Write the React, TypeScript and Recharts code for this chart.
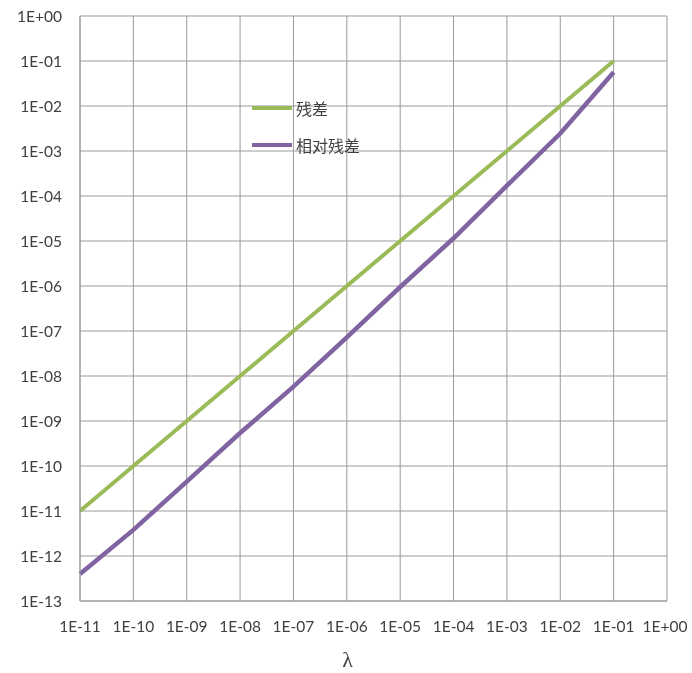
import React from "react";
import { CartesianGrid, Legend, Line, LineChart, XAxis, YAxis } from "recharts";

// λ values (one point per decade)
const lambdas = [1e-11, 1e-10, 1e-9, 1e-8, 1e-7, 1e-6, 1e-5, 1e-4, 1e-3, 1e-2, 1e-1];
// 残差
const residual = [1e-11, 1e-10, 1e-9, 1e-8, 1e-7, 1e-6, 1e-5, 1e-4, 1e-3, 1e-2, 1e-1];
// 相对残差
const relativeResidual = [4.0e-13, 3.8e-12, 4.5e-11, 5.4e-10, 5.8e-9, 7.2e-8, 9.5e-7, 1.15e-5, 1.7e-4, 2.45e-3, 5.6e-2];

const xTicks = [1e-11, 1e-10, 1e-9, 1e-8, 1e-7, 1e-6, 1e-5, 1e-4, 1e-3, 1e-2, 1e-1, 1];
const yTicks = [1e-13, 1e-12, 1e-11, 1e-10, 1e-9, 1e-8, 1e-7, 1e-6, 1e-5, 1e-4, 1e-3, 1e-2, 1e-1, 1];

const GREEN = "#9bbb59";
const PURPLE = "#8064a2";
const GRID = "#9a9a9a";
const TEXT = "#404040";

const chartData = lambdas.map((x, i) => ({
  x,
  residual: residual[i],
  relative: relativeResidual[i],
}));

const formatExp = (value: number) => {
  const exp = Math.round(Math.log10(value));
  return `1E${exp < 0 ? "-" : "+"}${String(Math.abs(exp)).padStart(2, "0")}`;
};

const tickStyle = { fontSize: 15.5, fill: TEXT, fontFamily: "Lato" };

// x tick: the last label sits right at the window edge, nudge it in a little
function XTick(props: any) {
  const { x, y, payload } = props;
  const isLast = payload.value === xTicks[xTicks.length - 1];
  return (
    <text
      x={isLast ? x - 2 : x}
      y={y}
      dy="0.71em"
      textAnchor="middle"
      fontSize={15.5}
      fontFamily="Lato"
      fill={TEXT}
    >
      {formatExp(payload.value)}
    </text>
  );
}

const legendItems = [
  { name: "残差", color: GREEN },
  { name: "相对残差", color: PURPLE },
];

function LegendContent() {
  return (
    <div style={{ fontFamily: "'Noto Sans CJK SC'", fontSize: 16, color: TEXT }}>
      {legendItems.map((item) => (
        <div key={item.name} style={{ display: "flex", alignItems: "center", height: 37 }}>
          <span style={{ display: "inline-block", width: 40, height: 4, background: item.color, marginRight: 4 }} />
          <span>{item.name}</span>
        </div>
      ))}
    </div>
  );
}

export default function App() {
  return (
    <div style={{ position: "fixed", left: 0, top: 0, width: 692, height: 673 }}>
      <LineChart
        width={692}
        height={673}
        data={chartData}
        margin={{ top: 16, right: 25, bottom: 30, left: 0 }}
      >
        <CartesianGrid stroke={GRID} strokeWidth={1} />
        <XAxis
          dataKey="x"
          type="number"
          scale="log"
          domain={[1e-11, 1]}
          ticks={xTicks}
          interval={0}
          height={42}
          tickSize={0}
          tickMargin={20}
          axisLine={{ stroke: GRID }}
          tick={<XTick />}
          label={{
            content: (props: any) => {
              const vb = props.viewBox;
              return (
                <text
                  x={vb.x + vb.width / 2 - 26}
                  y={vb.y + vb.height + 24}
                  textAnchor="middle"
                  fontFamily="Liberation Serif"
                  fontSize={22}
                  fill={TEXT}
                >
                  λ
                </text>
              );
            },
          }}
        />
        <YAxis
          type="number"
          scale="log"
          domain={[1e-13, 1]}
          ticks={yTicks}
          tickFormatter={formatExp}
          interval={0}
          width={80}
          tickSize={0}
          tickMargin={18}
          axisLine={{ stroke: GRID }}
          tick={tickStyle}
        />
        <Legend
          layout="vertical"
          align="center"
          verticalAlign="middle"
          content={() => <LegendContent />}
          wrapperStyle={{ left: 252, top: 89, width: "auto", height: "auto" }}
        />
        <Line
          dataKey="residual"
          name="残差"
          type="linear"
          stroke={GREEN}
          strokeWidth={4}
          dot={false}
          isAnimationActive={false}
        />
        <Line
          dataKey="relative"
          name="相对残差"
          type="linear"
          stroke={PURPLE}
          strokeWidth={4.5}
          dot={false}
          isAnimationActive={false}
        />
      </LineChart>
    </div>
  );
}
